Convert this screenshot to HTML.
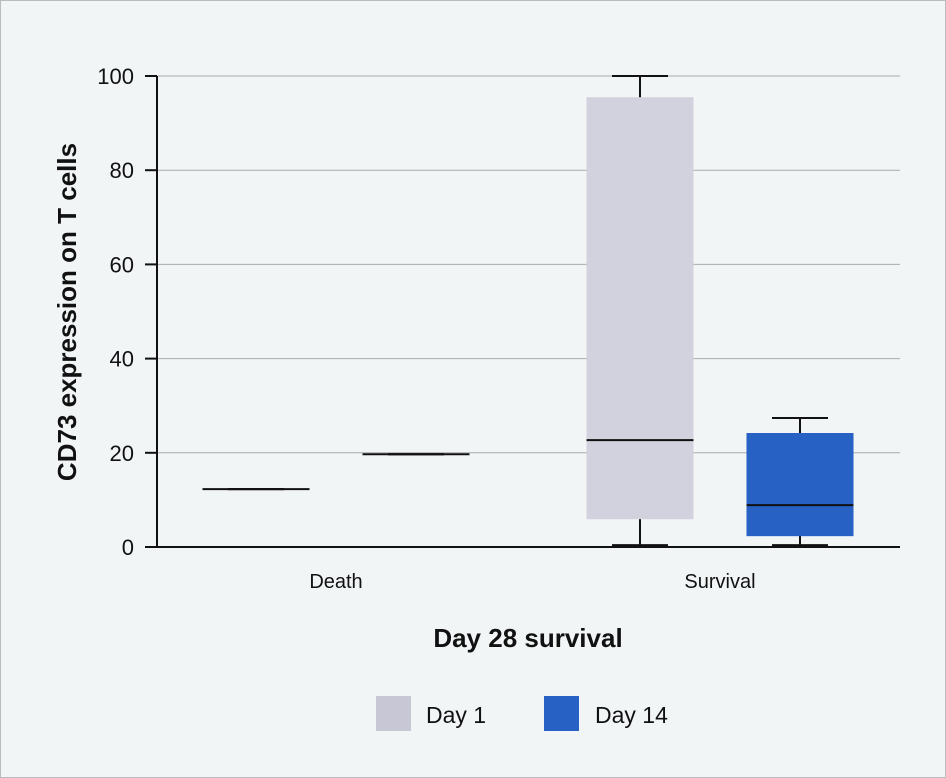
<!DOCTYPE html>
<html><head><meta charset="utf-8"><style>
html,body{margin:0;padding:0;background:#f2f5f6;}
svg{display:block;font-family:"Liberation Sans",sans-serif;}
</style></head><body>
<svg id="chart" width="946" height="778" viewBox="0 0 946 778">
<rect x="0.5" y="0.5" width="945" height="777" fill="#f2f5f6" stroke="#b8bcbf"/>
<g id="grid"></g><g id="marks"></g><g id="axes"></g>
<text x="0" y="0" transform="translate(76,312) rotate(-90)" text-anchor="middle" font-size="26" font-weight="bold" fill="#111">CD73 expression on T cells</text>
<text x="528" y="647" text-anchor="middle" font-size="26" font-weight="bold" fill="#111">Day 28 survival</text>
<g>
<rect x="376" y="696" width="35" height="35" fill="#c7c7d6"/>
<text x="426" y="723" font-size="23" fill="#111">Day 1</text>
<rect x="544" y="696" width="35" height="35" fill="#2761c4"/>
<text x="595" y="723" font-size="23" fill="#111">Day 14</text>
</g>
</svg>
<script>
const categories = ["Death", "Survival"];
const seriesNames = ["Day 1", "Day 14"];
const yTicks = [0, 20, 40, 60, 80, 100];
// [whiskerLow, q1, median, q3, whiskerHigh]
const day1Values = [[12.3,12.3,12.3,12.3,12.3],[0.4,5.9,22.7,95.5,100]];
const day14Values = [[19.7,19.7,19.7,19.7,19.7],[0.4,2.3,8.9,24.2,27.4]];

const NS="http://www.w3.org/2000/svg";
const x0=157,x1=900,yTop=76,yBot=547;
const y=v=>yBot-(v/100)*(yBot-yTop);
const catCenter=i=>336+i*384;
const boxW=107, offsets=[-80,80];
function mk(tag,attrs,parent){const e=document.createElementNS(NS,tag);for(const k in attrs)e.setAttribute(k,attrs[k]);parent.appendChild(e);return e;}
const grid=document.getElementById('grid'),marks=document.getElementById('marks'),axes=document.getElementById('axes');
yTicks.forEach(t=>{
  if(t>0){const g=mk('line',{x1:x0,x2:x1,y1:y(t),y2:y(t),stroke:'#a8abad','stroke-width':1},grid);
  
  }
  const tk=mk('line',{x1:145,x2:x0,y1:y(t),y2:y(t),stroke:'#111','stroke-width':2},axes);
  
  
  const lb=mk('text',{x:134,y:y(t)+8,'text-anchor':'end','font-size':22,fill:'#111'},axes);
  lb.textContent=t;
  
  
});
const ax=mk('line',{x1:x0,x2:x0,y1:yTop,y2:yBot,stroke:'#111','stroke-width':2},axes);


const bx=mk('line',{x1:x0,x2:x1,y1:yBot,y2:yBot,stroke:'#111','stroke-width':2},axes);


categories.forEach((c,i)=>{
  const t=mk('text',{x:catCenter(i),y:588,'text-anchor':'middle','font-size':20,fill:'#111'},axes);
  t.textContent=c;
  
  
});
[[day1Values,'#d2d2de','day1'],[day14Values,'#2761c4','day14']].forEach(([vals,col,nm],s)=>{
  vals.forEach((v,i)=>{
    const cx=catCenter(i)+offsets[s],l=cx-boxW/2,r=cx+boxW/2;
    const g=mk('g',{},marks);
    
    
    mk('line',{x1:cx,x2:cx,y1:y(v[4]),y2:y(v[0]),stroke:'#111','stroke-width':2},g);
    mk('line',{x1:cx-28,x2:cx+28,y1:y(v[4]),y2:y(v[4]),stroke:'#111','stroke-width':2},g);
    mk('line',{x1:cx-28,x2:cx+28,y1:y(v[0]),y2:y(v[0]),stroke:'#111','stroke-width':2},g);
    if(v[3]>v[1]) mk('rect',{x:l,y:y(v[3]),width:boxW,height:y(v[1])-y(v[3]),fill:col},g);
    mk('line',{x1:l,x2:r,y1:y(v[2]),y2:y(v[2]),stroke:'#111','stroke-width':2},g);
  });
});
</script>
</body></html>
